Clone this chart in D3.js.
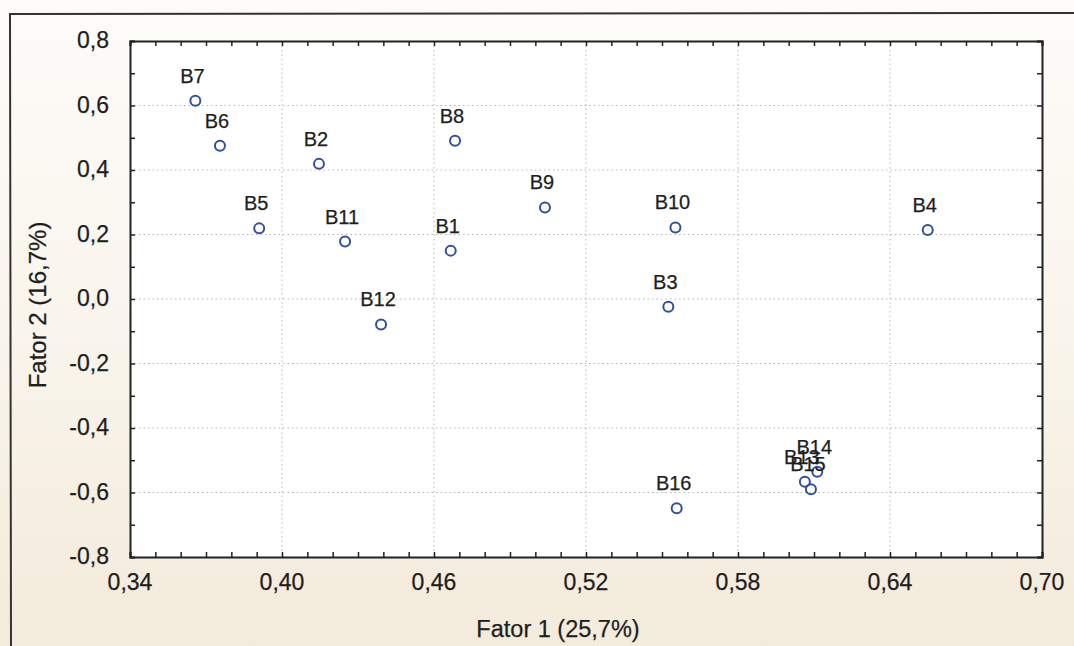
<!DOCTYPE html>
<html lang="pt">
<head>
<meta charset="UTF-8">
<title>Fator 1 x Fator 2</title>
<script src="https://cdn.jsdelivr.net/npm/d3@7"></script>
<style>
  body { margin: 0; background: #fff; }
  text { font-family: Arial, "Liberation Sans", sans-serif; fill: #1e1e1e; stroke: #1e1e1e; stroke-width: 0.25px; }
</style>
</head>
<body>
<script>
// data
var labels = ["B1","B2","B3","B4","B5","B6","B7","B8","B9","B10","B11","B12","B13","B14","B15","B16"];
var fator1 = [0.4666,0.4146,0.5525,0.6549,0.3910,0.3755,0.3658,0.4683,0.5038,0.5553,0.4249,0.4391,0.6064,0.6113,0.6088,0.5558];
var fator2 = [0.150,0.419,-0.024,0.214,0.219,0.475,0.615,0.491,0.284,0.222,0.178,-0.079,-0.567,-0.536,-0.590,-0.649];
var xTicks = [0.34,0.40,0.46,0.52,0.58,0.64,0.70];
var yTicks = [-0.8,-0.6,-0.4,-0.2,0.0,0.2,0.4,0.6,0.8];

var w = 1074, h = 646;
// plot box (note: "top" is reserved on window, so use other names)
var pL = 130, pR = 1042, pT = 41, pB = 557;

var fmt = function(v, n) { return v.toFixed(n).replace(".", ","); };

var svg = d3.select("body").append("svg")
  .attr("width", w)
  .attr("height", h);

// paper background
var grad = svg.append("defs").append("linearGradient")
  .attr("id", "paper").attr("x1", 0).attr("y1", 0).attr("x2", 0).attr("y2", 1);
grad.append("stop").attr("offset", "0%").attr("stop-color", "#fdfcf9");
grad.append("stop").attr("offset", "45%").attr("stop-color", "#faf6ee");
grad.append("stop").attr("offset", "100%").attr("stop-color", "#f3ebdb");
svg.append("rect").attr("width", w).attr("height", h).attr("fill", "url(#paper)");

// outer frame
svg.append("path")
  .attr("d", "M11,646 L10,14 L1074,13")
  .attr("fill", "none").attr("stroke", "#333").attr("stroke-width", 2);

var x = d3.scaleLinear().domain([0.34, 0.70]).range([pL, pR]);
var y = d3.scaleLinear().domain([-0.8, 0.8]).range([pB, pT]);

svg.append("rect")
  .attr("x", pL).attr("y", pT)
  .attr("width", pR - pL).attr("height", pB - pT)
  .attr("fill", "#fff");

// dotted grid
svg.append("g").selectAll("line").data(xTicks.slice(1, -1)).enter().append("line")
  .attr("x1", function(d) { return x(d); }).attr("x2", function(d) { return x(d); })
  .attr("y1", pT).attr("y2", pB)
  .attr("stroke", "#b5b5b5").attr("stroke-dasharray", "1.5,3");
svg.append("g").selectAll("line").data(yTicks.slice(1, -1)).enter().append("line")
  .attr("y1", function(d) { return y(d); }).attr("y2", function(d) { return y(d); })
  .attr("x1", pL).attr("x2", pR)
  .attr("stroke", "#b5b5b5").attr("stroke-dasharray", "1.5,3");

// axes with inward ticks, minor every 0.01 / 0.1
var xMinor = d3.range(0, 37).map(function(i) { return 0.34 + i * 0.01; });
var yMinor = d3.range(0, 17).map(function(i) { return -0.8 + i * 0.1; });

svg.append("g").attr("transform", "translate(0," + pB + ")")
  .call(d3.axisTop(x).tickValues(xMinor).tickSize(5).tickFormat(""));
svg.append("g").attr("transform", "translate(0," + pT + ")")
  .call(d3.axisBottom(x).tickValues(xMinor).tickSize(5).tickFormat(""));
svg.append("g").attr("transform", "translate(" + pL + ",0)")
  .call(d3.axisRight(y).tickValues(yMinor).tickSize(5).tickFormat(""));
svg.append("g").attr("transform", "translate(" + pR + ",0)")
  .call(d3.axisLeft(y).tickValues(yMinor).tickSize(5).tickFormat(""));

svg.selectAll(".domain").attr("stroke", "#222").attr("stroke-width", 2);
svg.selectAll(".tick line").attr("stroke", "#222").attr("stroke-width", 1.5);

// tick labels
svg.append("g").selectAll("text").data(xTicks).enter().append("text")
  .attr("x", function(d) { return x(d); })
  .attr("y", 590)
  .attr("text-anchor", "middle")
  .style("font-size", "23px")
  .text(function(d) { return fmt(d, 2); });
svg.append("g").selectAll("text").data(yTicks).enter().append("text")
  .attr("x", 109)
  .attr("y", function(d) { return y(d) + 7; })
  .attr("text-anchor", "end")
  .style("font-size", "23px")
  .text(function(d) { return fmt(d, 1); });

// axis titles
svg.append("text")
  .attr("x", 558).attr("y", 637)
  .attr("text-anchor", "middle")
  .style("font-size", "23.5px")
  .text("Fator 1 (25,7%)");
svg.append("text")
  .attr("transform", "translate(46,305) rotate(-90)")
  .attr("text-anchor", "middle")
  .style("font-size", "24px")
  .text("Fator 2 (16,7%)");

// points and labels
var idx = d3.range(labels.length);
svg.append("g").selectAll("circle").data(idx).enter().append("circle")
  .attr("cx", function(i) { return x(fator1[i]); })
  .attr("cy", function(i) { return y(fator2[i]); })
  .attr("r", 5)
  .attr("fill", "none")
  .attr("stroke", "#2f4f9e")
  .attr("stroke-width", 2);
svg.append("g").selectAll("text").data(idx).enter().append("text")
  .attr("x", function(i) { return x(fator1[i]) - 3; })
  .attr("y", function(i) { return y(fator2[i]) - 18; })
  .attr("text-anchor", "middle")
  .style("font-size", "20px")
  .text(function(i) { return labels[i]; });
</script>
</body>
</html>
